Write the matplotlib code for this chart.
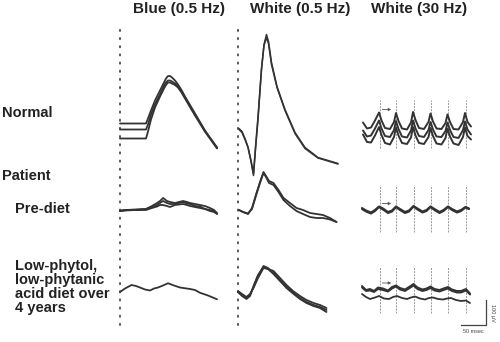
import matplotlib.pyplot as plt

# --- ERG traces ---
# time in ms from stimulus onset, amplitude in uV relative to the row baseline

# Blue (0.5 Hz)
blue_t_normal = [0, 52, 56, 62, 70, 80, 88, 92, 96, 100, 104, 110, 116, 123, 130, 140, 150, 160, 170, 182, 194]
blue_normal_a = [24, 24, 44, 76, 116, 156, 188, 204, 214, 214, 208, 196, 180, 158, 132, 98, 64, 30, -4, -38, -72]
blue_normal_b = [0, 0, 20, 60, 100, 140, 176, 188, 196, 196, 192, 184, 172, 152, 128, 94, 60, 26, -8, -40, -72]
blue_normal_c = [-36, -36, -8, 40, 88, 132, 164, 178, 188, 188, 184, 178, 168, 148, 124, 90, 56, 24, -8, -42, -76]

blue_t_pre = [0, 12, 30, 52, 64, 74, 80, 86, 94, 100, 110, 118, 126, 134, 140, 150, 160, 170, 180, 188, 194]
blue_pre_a = [-4, 0, 0, 4, 16, 28, 36, 48, 36, 32, 28, 32, 36, 32, 28, 24, 20, 16, 8, 0, -12]
blue_pre_b = [-4, -2, 0, 0, 8, 14, 20, 20, 16, 12, 20, 22, 24, 20, 16, 12, 8, 4, -4, -8, -16]
blue_pre_c = [-2, 0, 2, 4, 12, 20, 28, 36, 28, 24, 24, 28, 32, 26, 24, 16, 14, 4, 0, -4, -14]

blue_t_low = [0, 10, 23, 32, 40, 50, 60, 68, 76, 86, 96, 108, 120, 130, 140, 150, 160, 176, 194]
blue_low = [0, 14, 28, 24, 18, 10, 6, 14, 18, 26, 35, 26, 18, 15, 12, 8, -3, -14, -29]

# White (0.5 Hz)
white_t_normal = [2, 8, 14, 20, 26, 31, 35, 40, 47, 52, 57, 61, 67, 78, 94, 114, 134, 160, 200]
white_normal_a = [0, -12, -40, -72, -128, -184, -80, 40, 240, 340, 380, 352, 268, 172, 80, -12, -72, -112, -136]
white_normal_b = [4, -8, -36, -70, -124, -176, -70, 50, 244, 336, 368, 344, 260, 168, 76, -16, -76, -114, -138]

white_t_pre = [2, 10, 20, 28, 37, 44, 51, 56, 62, 71, 81, 91, 104, 117, 130, 144, 157, 170, 184, 197]
white_pre_a = [0, -8, -16, 8, 68, 112, 152, 136, 116, 108, 80, 48, 28, 8, 0, -12, -16, -20, -32, -48]
white_pre_b = [0, -8, -14, 4, 64, 108, 148, 132, 108, 100, 72, 40, 16, -4, -16, -28, -32, -32, -38, -48]

white_t_low = [0, 8, 17, 24, 31, 40, 51, 60, 71, 84, 97, 110, 124, 137, 151, 164, 177]
white_low_a = [0, -12, -24, -12, 20, 64, 104, 96, 76, 48, 20, -2, -24, -40, -52, -60, -72]
white_low_b = [4, -8, -20, -8, 16, 56, 96, 92, 84, 56, 28, 4, -16, -32, -44, -52, -64]
white_low_c = [0, -16, -28, -16, 24, 68, 100, 92, 72, 44, 16, -6, -28, -44, -56, -64, -80]

# White (30 Hz) flicker
stim_t = [39, 72, 107, 141, 176, 211]

flick_t_normal = [6, 14, 22, 30, 38, 43, 50, 60, 68, 72, 77, 84, 94, 102, 106, 111,
                  118, 128, 137, 141, 146, 153, 163, 171, 175, 180, 187, 197, 206, 210, 215, 222]
flick_normal_a = [28, 4, 8, 36, 68, 36, 6, 2, 30, 66, 34, 4, 0, 28, 70, 38,
                  6, 2, 30, 64, 32, 4, 2, 26, 60, 30, 2, 0, 30, 66, 30, 12]
flick_normal_b = [-4, -28, -24, 4, 36, 4, -26, -30, -2, 34, 2, -28, -32, -4, 36, 4,
                  -26, -30, -2, 30, 0, -28, -30, -6, 28, -2, -30, -34, -2, 32, 0, -20]
flick_normal_c = [-20, -50, -52, -24, 10, -22, -54, -60, -30, 8, -24, -54, -58, -32, 10, -24,
                  -54, -58, -30, 6, -26, -56, -60, -34, 4, -28, -56, -62, -30, 8, -26, -40]

flick_t_pre = [4, 12, 22, 30, 38, 46, 56, 64, 72, 80, 90, 98, 107, 115, 125, 133,
               141, 149, 159, 167, 176, 184, 194, 202, 211, 218]
flick_pre_a = [4, -6, -14, -4, 12, 2, -12, -6, 12, 0, -12, -6, 14, 2, -10, -4,
               12, 0, -12, -4, 12, 0, -10, -4, 10, 4]
flick_pre_b = [8, -2, -10, 0, 14, 6, -8, -2, 14, 4, -8, -2, 16, 6, -6, 0,
               14, 4, -8, 0, 14, 4, -6, 0, 12, 6]

flick_t_low_up = [4, 12, 20, 28, 36, 46, 56, 64, 72, 80, 90, 98, 107, 115, 125, 133,
                  141, 149, 159, 167, 176, 184, 194, 202, 212, 220]
flick_low_a = [24, 8, 12, 4, 18, 14, 6, 20, 26, 16, 10, 20, 32, 18, 10, 14,
               22, 12, 8, 14, 20, 10, 4, 4, 12, -6]
flick_low_b = [18, 4, 6, 0, 12, 8, 2, 14, 22, 10, 4, 14, 26, 12, 4, 8,
               16, 6, 2, 8, 14, 4, -2, -2, 6, -10]
flick_t_low_dn = [4, 12, 20, 30, 38, 48, 58, 66, 74, 84, 94, 102, 110, 120, 130, 138,
                  146, 156, 166, 174, 182, 192, 202, 212, 220]
flick_low_c = [-8, -20, -28, -22, -16, -26, -28, -20, -16, -24, -28, -22, -18, -26, -30, -24,
               -22, -28, -30, -26, -24, -32, -36, -34, -44]

col_titles = ["Blue (0.5 Hz)", "White (0.5 Hz)", "White (30 Hz)"]

# --- layout: one axes over the whole figure, 2 ms and 4 uV per pixel ---
W, H = 500, 342
MS_PX, UV_PX = 2, 4
col_t0 = [240, 476, 720]          # onset of each column (ms)
row_base = [850, 528, 200]        # baseline of each row (uV)
INK = "#333333"

fig = plt.figure(figsize=(5, 3.42), dpi=100)
ax = fig.add_axes([0, 0, 1, 1])
ax.set_xlim(0, W * MS_PX)
ax.set_ylim(0, H * UV_PX)
ax.axis("off")


def trace(col, row, t, v, lw=1.3, color=INK):
    ax.plot([col_t0[col] + x for x in t], [row_base[row] + y for y in v],
            color=color, lw=lw, solid_joinstyle="round", solid_capstyle="round")


# dotted onset markers
for c in (0, 1):
    ax.plot([col_t0[c], col_t0[c]], [68, 1268], color="#555555", lw=1.4,
            linestyle=(0, (0.6, 3.6)), dash_capstyle="round")

# blue column
for v in (blue_normal_a, blue_normal_b, blue_normal_c):
    trace(0, 0, blue_t_normal, v)
for v in (blue_pre_a, blue_pre_b, blue_pre_c):
    trace(0, 1, blue_t_pre, v)
trace(0, 2, blue_t_low, blue_low)

# white 0.5 Hz column
for v in (white_normal_a, white_normal_b):
    trace(1, 0, white_t_normal, v, lw=1.1)
for v in (white_pre_a, white_pre_b):
    trace(1, 1, white_t_pre, v)
for v in (white_low_a, white_low_b, white_low_c):
    trace(1, 2, white_t_low, v)

# 30 Hz flicker column: stimulus marks, traces, period arrow
stim_span = [(120, -72), (100, -88), (100, -84)]
arrow_y = [80, 26, 36]
for r in range(3):
    top, bot = stim_span[r]
    for s in stim_t:
        ax.plot([col_t0[2] + s] * 2, [row_base[r] + bot, row_base[r] + top],
                color="#999999", lw=0.7, linestyle=(0, (2, 1.2)))
    ax.annotate("", xy=(col_t0[2] + stim_t[1] - 4, row_base[r] + arrow_y[r]),
                xytext=(col_t0[2] + stim_t[0], row_base[r] + arrow_y[r]),
                arrowprops=dict(arrowstyle="-|>", color="#555555", lw=0.6,
                                mutation_scale=4))

for v in (flick_normal_a, flick_normal_b, flick_normal_c):
    trace(2, 0, flick_t_normal, v, lw=1.4)
for v in (flick_pre_a, flick_pre_b):
    trace(2, 1, flick_t_pre, v, lw=1.5)
for v in (flick_low_a, flick_low_b):
    trace(2, 2, flick_t_low_up, v, lw=1.4)
trace(2, 2, flick_t_low_dn, flick_low_c, lw=1.3)

# scale bar: 50 msec, 100 uV
sx, sy = 972, 68
ax.plot([sx - 50, sx, sx], [sy, sy, sy + 100], color="#444444", lw=0.9)
ax.text(sx - 26, sy - 26, "50 msec", fontsize=4, ha="center", va="center",
        color="#444444", family="Liberation Sans")
ax.text(sx + 14, sy + 50, "100 \u00b5V", fontsize=4, ha="center", va="center",
        rotation=270, color="#444444", family="Liberation Sans")

# --- text ---
font = dict(family="Liberation Sans", fontweight="bold", color="#222222")
for x, s in zip([179, 300, 419], col_titles):
    fig.text(x / W, 1 - 9 / H, s, ha="center", va="center", fontsize=11, **font)

fig.text(2 / W, 1 - 113 / H, "Normal", ha="left", va="center", fontsize=10.5, **font)
fig.text(2 / W, 1 - 176 / H, "Patient", ha="left", va="center", fontsize=10.5, **font)
fig.text(15 / W, 1 - 209 / H, "Pre-diet", ha="left", va="center", fontsize=10.5, **font)
fig.text(15 / W, 1 - 287 / H, "Low-phytol,\nlow-phytanic\nacid diet over\n4 years",
         ha="left", va="center", fontsize=10.5, linespacing=0.98, **font)

fig.savefig("out.png", dpi=100)
